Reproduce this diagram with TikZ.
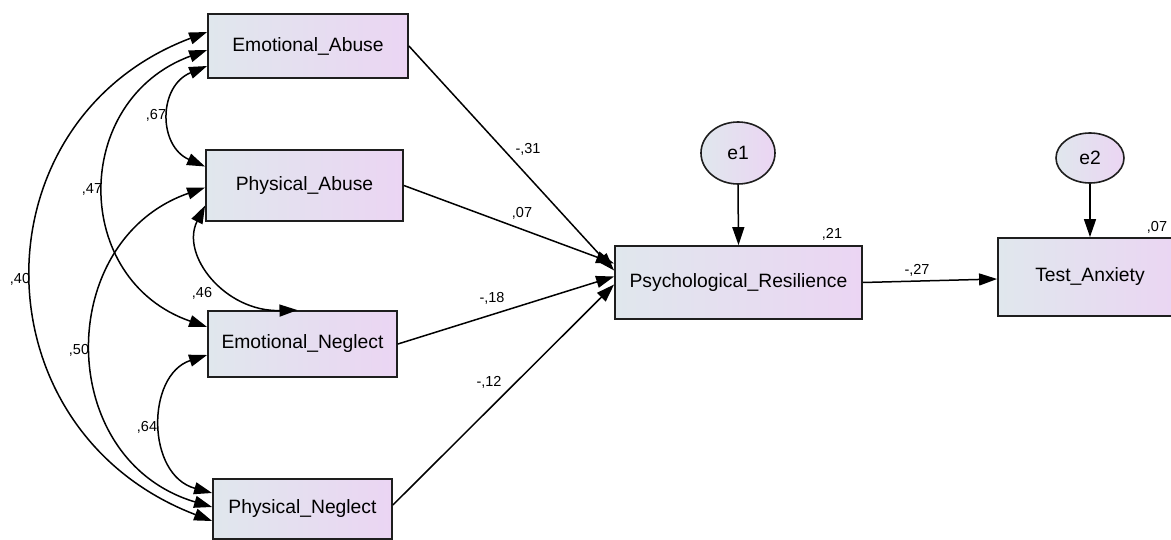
\documentclass[tikz,border=0pt]{standalone}
\usepackage{fontspec}
\setmainfont{Liberation Sans}
\usetikzlibrary{arrows.meta,calc,shapes.geometric}
\definecolor{boxL}{RGB}{224,231,237}
\definecolor{boxR}{RGB}{235,213,243}
\definecolor{edge}{RGB}{30,30,30}
\tikzset{
  var/.style={draw=edge, line width=1.8pt, left color=boxL, right color=boxR, inner sep=0pt, font=\fontsize{19.3}{21}\selectfont},
  err/.style={ellipse, draw=edge, line width=1.6pt, left color=boxL, right color=boxR, inner sep=0pt, font=\fontsize{19.3}{21}\selectfont},
  path/.style={line width=1.5pt, draw=black, -{Triangle[length=18pt,width=12pt]}},
  cov/.style={line width=1.5pt, draw=black, {Triangle[length=18pt,width=12pt]}-{Triangle[length=18pt,width=12pt]}},
  lab/.style={font=\fontsize{14.5}{16}\selectfont, inner sep=0pt}
}
\begin{document}
\begin{tikzpicture}[x=1pt,y=-1pt]
\clip (0,0) rectangle (1171,540);
\fill[white] (0,0) rectangle (1171,540);
% boxes
\node[var, minimum width=200pt, minimum height=64pt] (EA) at (308,46) {Emotional\_Abuse};
\node[var, minimum width=197pt, minimum height=71pt] (PA) at (304.5,185.5) {Physical\_Abuse};
\node[var, minimum width=189pt, minimum height=66pt] (EN) at (302.5,344) {Emotional\_Neglect};
\node[var, minimum width=179pt, minimum height=60pt] (PN) at (302.5,509) {Physical\_Neglect};
\node[var, minimum width=247pt, minimum height=73pt] (PR) at (738.5,282.5) {Psychological\_Resilience};
\node[var, minimum width=184pt, minimum height=78pt] (TA) at (1090,277) {Test\_Anxiety};
\node[err, minimum width=74pt, minimum height=62pt] (e1) at (738,153) {e1};
\node[err, minimum width=68pt, minimum height=50pt] (e2) at (1090,158) {e2};
% regression paths
\draw[path] (EA.east) -- ($(PR.west)+(0,-12)$);
\draw[path] (PA.east) -- ($(PR.west)+(0,-19)$);
\draw[path] (EN.east) -- ($(PR.west)+(0,-6)$);
\draw[path] ($(PN.east)+(0,-4)$) -- ($(PR.west)+(0,2)$);
\draw[path] ($(PR.east)+(0,0)$) -- ($(TA.west)+(0,2)$);
\draw[path] (e1.south) -- (PR.north);
\draw[path] (e2.south) -- (TA.north);
% covariances
\draw[cov] ($(EA.west)+(0,20)$) .. controls (158,86) and (158,146) .. ($(PA.west)+(0,-19)$);
\draw[cov] ($(EA.west)+(0,4)$) .. controls (71,100) and (71,280) .. ($(EN.west)+(0,-17)$);
\draw[cov] ($(EA.west)+(0,-14)$) .. controls (-26,120) and (-26,430) .. ($(PN.west)+(0,12)$);
\draw[cov] ($(PA.west)+(0,20)$) .. controls (180,255) and (225,312) .. ($(EN.north)+(-5,0)$);
\draw[cov] ($(PA.west)+(0,2)$) .. controls (54,240) and (54,460) .. ($(PN.west)+(0,-2)$);
\draw[cov] ($(EN.west)+(0,11)$) .. controls (146,375) and (146,475) .. ($(PN.west)+(0,-16)$);
% labels
\node[lab] (l67) at (156,115) {,67};
\node[lab] (l47) at (92,189) {,47};
\node[lab] (l40) at (20,279) {,40};
\node[lab] (l46) at (202,293) {,46};
\node[lab] (l50) at (79,350) {,50};
\node[lab] (l64) at (147,427) {,64};
\node[lab] (l31) at (528,149) {-,31};
\node[lab] (l07) at (522,213) {,07};
\node[lab] (l18) at (492,298) {-,18};
\node[lab] (l12) at (489,382) {-,12};
\node[lab] (l27) at (917,270) {-,27};
\node[lab] (l21) at (832,234) {,21};
\node[lab] (l07b) at (1157,227) {,07};
\end{tikzpicture}
\end{document}
